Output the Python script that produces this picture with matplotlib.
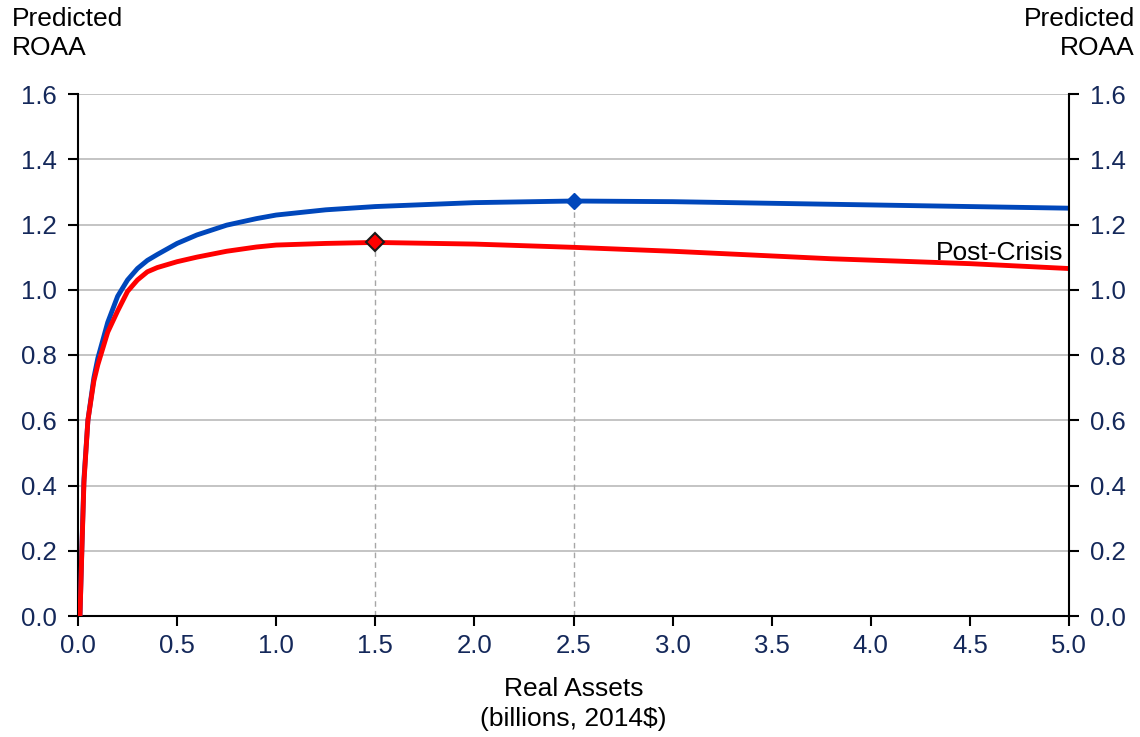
import matplotlib
matplotlib.use("Agg")
import matplotlib.pyplot as plt

plt.rcParams["font.family"] = ["Liberation Sans", "DejaVu Sans"]

# curve values
assets = [0.01, 0.02, 0.03, 0.05, 0.08, 0.1, 0.15, 0.2, 0.25, 0.3, 0.35, 0.4, 0.5, 0.6, 0.75, 0.9, 1.0, 1.25, 1.5, 2.0, 2.5, 3.0, 3.8, 4.5, 5.0]
pre_crisis = [0.0, 0.22, 0.42, 0.6, 0.73, 0.79, 0.9, 0.98, 1.03, 1.065, 1.09, 1.108, 1.142, 1.168, 1.198, 1.218, 1.229, 1.245, 1.255, 1.267, 1.272, 1.270, 1.262, 1.255, 1.25]
post_crisis = [0.0, 0.21, 0.41, 0.6, 0.72, 0.77, 0.87, 0.935, 0.995, 1.03, 1.055, 1.068, 1.086, 1.10, 1.118, 1.131, 1.137, 1.142, 1.145, 1.140, 1.13, 1.118, 1.095, 1.08, 1.065]

# peaks
peak_x = [2.5, 1.5]
peak_y = [1.272, 1.145]

xticks = [0.0, 0.5, 1.0, 1.5, 2.0, 2.5, 3.0, 3.5, 4.0, 4.5, 5.0]
yticks = [0.0, 0.2, 0.4, 0.6, 0.8, 1.0, 1.2, 1.4, 1.6]

blue = "#0047BB"
red = "#FF0000"
navy = "#14285A"
fs = 18.5

fig = plt.figure(figsize=(11.4, 7.37), dpi=100)
ax = fig.add_axes([78/1140, 121/737, 991/1140, 522/737])

for y in yticks[1:]:
    ax.axhline(y, color="#BFBFBF", lw=1.3, zorder=1)

ax.plot([peak_x[0], peak_x[0]], [0, peak_y[0]], color="#A6A6A6", lw=1, ls=(0, (4, 3)), zorder=2)
ax.plot([peak_x[1], peak_x[1]], [0, peak_y[1]], color="#A6A6A6", lw=1, ls=(0, (4, 3)), zorder=2)

ax.plot(assets, pre_crisis, color=blue, lw=3.5, zorder=3, solid_joinstyle="round")
ax.plot(assets, post_crisis, color=red, lw=3.5, zorder=3, solid_joinstyle="round")
ax.plot(peak_x[0], peak_y[0], marker="D", ms=8, color=blue, mec=blue, zorder=4)
ax.plot(peak_x[1], peak_y[1], marker="D", ms=9, color=red, mec="#1A1A1A", mew=1.5, zorder=4)

ax.text(4.97, 1.113, "Post-Crisis", ha="right", va="center", fontsize=19, color="black", zorder=5)

ax.set_xlim(0, 5.0)
ax.set_ylim(0, 1.6)
ax.set_xticks(xticks)
ax.set_xticklabels([f"{v:.1f}" for v in xticks])
ax.set_yticks(yticks)
ax.set_yticklabels([f"{v:.1f}" for v in yticks])
ax.tick_params(axis="both", direction="out", length=7, width=1.5, color="black",
               labelsize=fs, labelcolor=navy, pad=6)
ax.tick_params(axis="y", pad=8)

ax.spines["top"].set_visible(False)
ax.spines["right"].set_visible(False)
ax.spines["left"].set_linewidth(1.5)
ax.spines["bottom"].set_linewidth(1.5)

ax2 = ax.twinx()
ax2.set_ylim(0, 1.6)
ax2.set_yticks(yticks)
ax2.set_yticklabels([f"{v:.1f}" for v in yticks])
ax2.tick_params(axis="y", direction="out", length=7, width=1.5, color="black",
                labelsize=fs, labelcolor=navy, pad=8)
for s in ["top", "left", "bottom"]:
    ax2.spines[s].set_visible(False)
ax2.spines["right"].set_linewidth(1.5)

ax.set_xlabel("Real Assets\n(billions, 2014$)", fontsize=19, color="black", labelpad=14, linespacing=1.3)

fig.text(12/1140, 1 - 7/737, "Predicted\nROAA", ha="left", va="top", fontsize=19, linespacing=1.25)
fig.text(1135/1140, 1 - 7/737, "Predicted\nROAA", ha="right", va="top", fontsize=19, linespacing=1.25)

fig.savefig("out.png", dpi=100)
